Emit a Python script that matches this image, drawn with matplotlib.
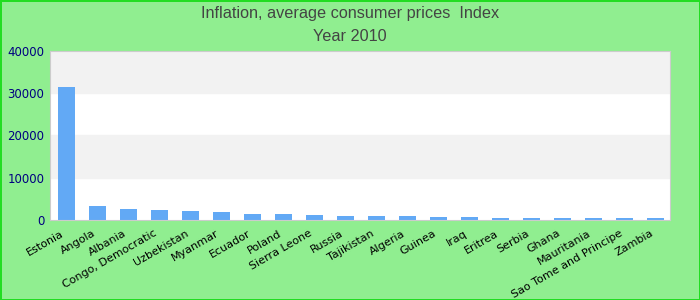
import numpy as np
import matplotlib
matplotlib.use("Agg")
import matplotlib.pyplot as plt
import matplotlib.transforms as mtransforms

countries = ["Estonia", "Angola", "Albania", "Congo, Democratic", "Uzbekistan",
             "Myanmar", "Ecuador", "Poland", "Sierra Leone", "Russia", "Tajikistan",
             "Algeria", "Guinea", "Iraq", "Eritrea", "Serbia", "Ghana", "Mauritania",
             "Sao Tome and Principe", "Zambia"]
values = [31500, 3400, 2600, 2400, 2150, 1900, 1450, 1400, 1180, 950, 930,
          900, 720, 700, 520, 490, 480, 470, 460, 450]
yticks = [0, 10000, 20000, 30000, 40000]

fig = plt.figure(figsize=(7, 3), dpi=100, facecolor="#90ee90")
fig.patch.set_edgecolor("#22dd22")
fig.patch.set_linewidth(2)
ax = fig.add_axes([0.0714, 0.267, 0.886, 0.563])
ax.set_facecolor("white")

# alternating background bands
for i in range(len(yticks) - 1):
    if i % 2 == 1:
        ax.axhspan(yticks[i], yticks[i + 1], color="#f2f2f2", zorder=0)

x = np.arange(len(countries))
ax.bar(x, values, width=0.55, color="#62a9f5", zorder=2)
ax.set_xlim(-0.53, len(countries) - 0.53)
ax.set_ylim(0, 40000)
ax.set_yticks(yticks)
ax.set_yticklabels([str(v) for v in yticks], color="#000080", fontsize=8.5)
ax.set_xticks(x)
ax.set_xticklabels(countries, rotation=30, ha="right", rotation_mode="anchor",
                   fontsize=8)
ax.tick_params(length=0, pad=4)
ax.tick_params(axis="x", pad=6)
shift = mtransforms.ScaledTranslation(-4 / 72, 0, fig.dpi_scale_trans)
for lbl in ax.get_xticklabels():
    lbl.set_transform(lbl.get_transform() + shift)
for s in ax.spines.values():
    s.set_color("#cccccc")

fig.text(0.5, 0.955, "Inflation, average consumer prices  Index", ha="center",
         va="center", fontsize=11.7, color="#444444", family="Liberation Sans",
         stretch="condensed")
fig.text(0.5, 0.878, "Year 2010", ha="center", va="center", fontsize=11.7,
         color="#444444", family="Liberation Sans")

fig.savefig("out.png", dpi=100, facecolor=fig.get_facecolor(),
            edgecolor=fig.get_edgecolor())
